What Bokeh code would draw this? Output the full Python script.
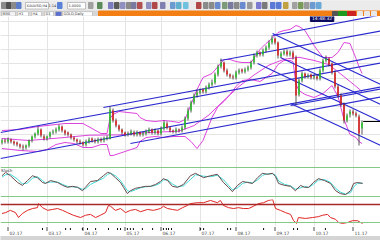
from bokeh.plotting import figure
from bokeh.layouts import column
from bokeh.models import Range1d, FixedTicker, ColumnDataSource, Span
from bokeh.embed import file_html
from bokeh.resources import INLINE
from bokeh.core.properties import value

# ---------------- data ----------------
opens = [1221, 1223, 1222, 1224, 1222, 1221, 1219, 1217, 1216, 1218,
         1223, 1227, 1230, 1234, 1227, 1225, 1227, 1231, 1232, 1234,
         1237, 1233, 1231, 1229, 1226, 1224, 1222, 1221, 1219, 1222,
         1225, 1223, 1222, 1224, 1223, 1225, 1225, 1253, 1243, 1238,
         1234, 1231, 1229, 1230, 1231, 1229, 1231, 1229, 1230, 1232,
         1234, 1231, 1233, 1230, 1235, 1240, 1236, 1233, 1232, 1234,
         1233, 1236, 1245, 1253, 1261, 1268, 1271, 1274, 1272, 1276,
         1279, 1281, 1289, 1297, 1301, 1293, 1289, 1287, 1286, 1291,
         1294, 1292, 1294, 1296, 1301, 1308, 1311, 1309, 1313, 1316,
         1321, 1325, 1321, 1307, 1310, 1312, 1309, 1311, 1306, 1269,
         1283, 1290, 1287, 1289, 1286, 1287, 1285, 1293, 1303, 1305,
         1300, 1291, 1277, 1268, 1259, 1243, 1249, 1252, 1250, 1247,
         1235]
highs = [1225, 1225, 1226, 1225, 1223, 1222, 1220, 1219, 1219, 1224,
         1228, 1231, 1237, 1235, 1229, 1228, 1232, 1234, 1236, 1239,
         1238, 1234, 1232, 1230, 1227, 1225, 1224, 1222, 1224, 1226,
         1226, 1225, 1226, 1226, 1227, 1228, 1257, 1255, 1245, 1239,
         1235, 1232, 1232, 1234, 1233, 1233, 1232, 1232, 1234, 1236,
         1235, 1235, 1234, 1237, 1243, 1242, 1237, 1234, 1236, 1235,
         1238, 1247, 1256, 1263, 1270, 1274, 1275, 1275, 1278, 1281,
         1284, 1291, 1299, 1305, 1302, 1295, 1290, 1289, 1293, 1295,
         1295, 1296, 1298, 1303, 1310, 1313, 1312, 1315, 1318, 1323,
         1328, 1326, 1322, 1312, 1314, 1314, 1313, 1313, 1308, 1285,
         1292, 1291, 1290, 1290, 1289, 1289, 1295, 1305, 1308, 1306,
         1301, 1293, 1279, 1270, 1261, 1250, 1254, 1254, 1252, 1249,
         1243]
lows = [1219, 1220, 1220, 1220, 1218, 1217, 1215, 1213, 1214, 1216,
        1221, 1225, 1228, 1226, 1223, 1223, 1225, 1229, 1230, 1232,
        1231, 1228, 1227, 1224, 1222, 1220, 1219, 1217, 1217, 1220,
        1221, 1220, 1220, 1221, 1221, 1223, 1224, 1241, 1236, 1232,
        1229, 1227, 1227, 1228, 1227, 1227, 1227, 1227, 1228, 1230,
        1229, 1229, 1228, 1228, 1233, 1234, 1231, 1230, 1230, 1231,
        1231, 1234, 1243, 1251, 1259, 1266, 1269, 1270, 1270, 1274,
        1277, 1279, 1287, 1295, 1291, 1287, 1285, 1284, 1284, 1289,
        1290, 1290, 1292, 1294, 1299, 1306, 1307, 1307, 1311, 1314,
        1319, 1319, 1305, 1306, 1308, 1307, 1307, 1304, 1259, 1267,
        1281, 1285, 1285, 1284, 1284, 1283, 1283, 1291, 1301, 1297,
        1289, 1275, 1266, 1257, 1240, 1241, 1246, 1248, 1246, 1218,
        1229]
closes = [1223, 1222, 1224, 1222, 1220, 1219, 1217, 1216, 1218, 1223,
          1227, 1230, 1234, 1228, 1225, 1227, 1231, 1232, 1234, 1237,
          1233, 1230, 1229, 1226, 1224, 1222, 1221, 1219, 1222, 1224,
          1223, 1222, 1224, 1223, 1225, 1226, 1254, 1243, 1238, 1234,
          1231, 1229, 1230, 1232, 1229, 1231, 1229, 1230, 1232, 1234,
          1231, 1233, 1230, 1235, 1241, 1236, 1233, 1232, 1234, 1233,
          1236, 1245, 1253, 1261, 1268, 1271, 1273, 1272, 1276, 1279,
          1281, 1289, 1297, 1301, 1293, 1289, 1287, 1286, 1291, 1293,
          1292, 1294, 1296, 1301, 1308, 1311, 1309, 1313, 1316, 1321,
          1325, 1321, 1308, 1310, 1312, 1309, 1311, 1306, 1268, 1283,
          1290, 1287, 1288, 1286, 1287, 1285, 1293, 1303, 1305, 1299,
          1291, 1277, 1268, 1259, 1243, 1248, 1252, 1250, 1248, 1230,
          1241]
bid = 1242

# Bollinger-style envelope
bb_bars = [0, 6, 12, 15, 18, 21, 24, 27, 30, 33, 35, 36, 37, 39, 42, 45, 46, 48,
           51, 54, 57, 59, 61, 63, 65, 67, 70, 72, 74, 76, 78, 80, 83, 86, 88,
           90, 92, 94, 96, 97, 98, 99, 101, 104, 107, 110, 112, 114, 116, 118,
           119, 120]
bb_upper = [1233, 1234, 1237, 1238, 1239, 1240, 1240, 1240, 1235, 1230, 1230,
            1245, 1249, 1252, 1251, 1250, 1246, 1243, 1242, 1243, 1242, 1241,
            1244, 1259, 1274, 1286, 1290, 1297, 1304, 1304, 1302, 1301, 1301,
            1314, 1320, 1325, 1331, 1333, 1334, 1336, 1338, 1337, 1333, 1318,
            1306, 1306, 1311, 1321, 1320, 1305, 1297, 1290]
bb_lower = [1215, 1213, 1212, 1214, 1219, 1221, 1220, 1216, 1216, 1219, 1219,
            1208, 1208, 1210, 1213, 1216, 1222, 1226, 1227, 1226, 1227, 1227,
            1227, 1222, 1215, 1223, 1246, 1257, 1262, 1269, 1277, 1283, 1284,
            1282, 1286, 1290, 1299, 1303, 1303, 1302, 1279, 1273, 1269, 1266,
            1270, 1278, 1267, 1244, 1229, 1226, 1222, 1220]
mid_bars = [0, 9, 19, 29, 39, 49, 59, 64, 69, 74, 79, 84, 89, 94, 99, 104, 109,
            114, 118, 120]
bb_middle = [1225, 1223, 1225.5, 1228.3, 1228.6, 1231, 1232.3, 1237.9, 1248.6,
             1263.2, 1277.1, 1288.5, 1298.4, 1304.2, 1306.2, 1303.1, 1298.8,
             1286.9, 1277.1, 1272]

# channel lines (start bar, start price) -> (end bar, end price)
ch_x0 = [-0.5, -0.5, 33.8, 42.8, 72.8, 90.2, 96.2, 90.2, 92.8, 85.2, 96.2]
ch_y0 = [1205, 1231, 1256, 1220, 1303, 1328, 1258, 1330, 1306, 1300, 1260]
ch_x1 = [127, 127, 127, 127, 127, 127, 127, 127, 127, 127, 127]
ch_y1 = [1277, 1301, 1308, 1267, 1333, 1349, 1275, 1278, 1258, 1241, 1217]

osc1_bars = [0, 1.2, 2.8, 5.2, 6.8, 8.5, 10.2, 11.8, 13.5, 14.5, 16.2, 18.5, 20.2,
             21.8, 23.5, 25.2, 26.8, 27.8, 29.5, 31.8, 33.8, 35.2, 36.2, 37.8,
             39.5, 40.5, 41.8, 42.8, 44.5, 46.2, 47.8, 49.5, 51.2, 52.8, 53.8,
             55.2, 56.8, 58.5, 60.5, 62.8, 64.5, 67.2, 69.5, 71.8, 73.8, 75.5,
             76.8, 78.5, 80.2, 81.8, 83.5, 85.2, 86.8, 88.5, 90.2, 91.2, 92.2,
             94.2, 96.2, 97.8, 99.5, 100.8, 102.2, 103.8, 105.5, 107.5, 109.5,
             111.2, 112.8, 114.5, 116.2, 117.2, 118.5, 120.2]
osc1_main = [63, 70, 63, 49, 43, 53, 63, 59, 49, 47, 53, 49, 43, 39, 41, 39, 32,
             39, 51, 53, 63, 70, 68, 59, 49, 39, 26, 32, 37, 39, 41, 41, 45, 51,
             57, 53, 41, 39, 45, 63, 68, 59, 63, 66, 49, 39, 30, 43, 51, 49, 47,
             59, 68, 66, 68, 61, 47, 43, 41, 32, 43, 39, 39, 49, 57, 53, 47, 32,
             26, 24, 32, 47, 49, 47]
osc1_signal = [60, 65, 66, 56, 46, 48, 58, 61, 53, 48, 50, 50, 45, 41, 40, 39,
               35, 36, 45, 52, 58, 66, 68, 63, 53, 44, 32, 30, 34, 38, 40, 41,
               43, 48, 54, 55, 46, 40, 42, 55, 65, 62, 61, 64, 55, 43, 34, 38,
               47, 50, 48, 54, 64, 67, 67, 64, 52, 45, 42, 35, 38, 41, 39, 45,
               54, 55, 49, 37, 29, 25, 28, 40, 47, 48]
osc1_levels = [80, 20]

osc2_bars = [0, 1.2, 2.8, 4.5, 5.5, 6.8, 8.5, 10.2, 11.8, 12.2, 13.5, 15.2, 16.8,
             18.5, 20.2, 21.8, 23.8, 26.2, 27.8, 29.5, 31.2, 32.8, 34.5, 35.5,
             36.2, 37.8, 39.5, 41.2, 42.8, 44.5, 46.2, 48.5, 50.5, 52.8, 53.8,
             55.2, 56.8, 58.5, 60.2, 61.8, 62.8, 65.2, 67.2, 69.5, 71.8, 72.8,
             73.8, 75.5, 77.2, 78.8, 80.5, 82.2, 83.8, 85.5, 87.2, 88.8, 90.2,
             91.2, 92.8, 94.5, 96.2, 97.2, 98.2, 98.8, 101.2, 103.5, 105.5,
             106.8, 108.5, 109.5, 111.2, 112.2, 113.5, 115.2, 116.8, 118.5,
             119.5, 120.2]
osc2_vals = [50, 52, 57, 52, 41, 50, 57, 61, 63, 72, 63, 57, 59, 61, 57, 52, 46,
             41, 46, 48, 41, 46, 52, 68, 66, 57, 61, 52, 57, 59, 54, 59, 57, 61,
             66, 61, 59, 57, 63, 68, 72, 74, 74, 79, 74, 79, 68, 63, 61, 63, 61,
             61, 66, 72, 74, 79, 81, 61, 57, 52, 48, 34, 28, 41, 39, 41, 43, 46,
             48, 41, 37, 30, 28, 30, 34, 34, 30, 28]
osc2_levels = [70, 30]

tick_bars = [2, 15, 27, 41, 53, 66, 78, 91, 104, 117]
tick_labels = ["02.17", "03.17", "04.17", "05.17", "06.17", "07.17", "08.17",
               "09.17", "10.17", "11.17"]
marker_bars = [13.5, 21.2, 22.8, 26.8, 28.5, 31.2, 35.5, 38.5, 39.5, 41.8, 42.8,
               43.8, 46.8, 50.2, 53.8, 54.8, 55.5, 56.5, 66.2, 67.2, 75.2, 76.2,
               87.2, 97.2, 98.5, 107.8]
price_grid = [1200.2, 1214.4, 1228.6, 1242.8, 1257.0, 1271.2, 1285.4, 1299.6,
              1313.8, 1328.0, 1342.2]
clock_text = "14:48:32"

# ---------------- styling ----------------
GREEN = "#22c422"
RED = "#e01818"
BLUE = "#2b2bd0"
MAG = "#dd44dd"
GRID = "#e4e4e4"
FONT = value("DejaVu Sans")

xr = Range1d(-0.5, -0.5 + 380 / 3)


def panel(h, yr, xrange=xr):
    p = figure(width=380, height=h, x_range=xrange, y_range=yr,
               toolbar_location=None, output_backend="svg", min_border=0,
               x_axis_location=None, y_axis_location=None)
    p.outline_line_color = None
    p.background_fill_color = "white"
    p.border_fill_color = "white"
    p.xgrid.ticker = FixedTicker(ticks=tick_bars)
    p.xgrid.grid_line_color = GRID
    p.ygrid.grid_line_color = None
    return p


# ---------------- header (toolbar + tabs) ----------------
hdr = figure(width=380, height=16, x_range=Range1d(0, 380), y_range=Range1d(16, 0),
             toolbar_location=None, output_backend="svg", min_border=0,
             x_axis_location=None, y_axis_location=None)
hdr.outline_line_color = None
hdr.xgrid.grid_line_color = None
hdr.ygrid.grid_line_color = None
hdr.border_fill_color = "#ececec"
hdr.background_fill_color = "#ececec"
hdr.quad(left=[0], right=[380], top=[0], bottom=[10.5], color="#ebebeb")
hdr.quad(left=[0], right=[98], top=[10.5], bottom=[16], color="#d6d6d6")
hdr.quad(left=[98], right=[380], top=[10.5], bottom=[16], color="#f27e14")
icon_x = [1, 6, 11, 16, 57, 88, 97, 108, 114, 120, 126, 131, 137, 146, 152, 160,
          170, 176, 183, 196, 203, 209, 215, 222, 228, 234, 240, 247, 256, 262,
          270, 276, 283, 292, 298, 304, 310, 316]
icon_c = ["#8a8a8a", "#505050", "#8a8a8a", "#5b7cc8", "#5a80d8", "#a0a0a0",
          "#5a8a5a", "#7b7bc0", "#5a5a5a", "#9090c0", "#8a8a8a", "#7a7aa0",
          "#b05050", "#9090c0", "#b04848", "#8080b0", "#6a9ad0", "#60b0d0",
          "#70c0e0", "#b04848", "#8a8a8a", "#8a8a8a", "#6a8ad0", "#7a9a7a",
          "#7a7aa0", "#8a8a8a", "#6a8ad0", "#9a9a9a", "#7a7ad0", "#7a7a7a",
          "#5a7ad8", "#5a7ad8", "#c0a040", "#a0a0a0", "#7a9a5a", "#9a9a9a",
          "#6a9ad0", "#6aa8d8"]
hdr.quad(left=icon_x, right=[v + 4.5 for v in icon_x], top=[2] * len(icon_x),
         bottom=[8] * len(icon_x), color=icon_c)
hdr.quad(left=[25, 67], right=[48, 85], top=[2, 2], bottom=[8.5, 8.5],
         fill_color="white", line_color="#9a9a9a", line_width=0.6)
hdr.text(x=[26, 68], y=[5.4, 5.4], text=["XAUUSD,H4 1.14", "1.0000"],
         text_font=FONT, text_font_size="3.5px", text_color="#333333",
         text_baseline="middle")
tab_l = [1, 17, 31, 44, 55, 62]
tab_r = [15, 28, 41, 53, 61, 92]
tab_c = ["#f4f4f4", "white", "white", "white", "#5a6fd0", "white"]
hdr.quad(left=tab_l, right=tab_r, top=[11.2] * 6, bottom=[15.6] * 6,
         fill_color=tab_c, line_color="#aaaaaa", line_width=0.5)
hdr.text(x=[2, 18, 32, 45, 63], y=[13.5] * 5, text=["M30", "H1", "H4", "D1", "GOLD,Daily"],
         text_font=FONT, text_font_size="3.5px", text_color="#333333",
         text_baseline="middle")
hdr.quad(left=[332, 338, 347, 357, 364, 371], right=[337, 346, 355, 362, 369, 376],
         top=[11] * 6, bottom=[15.5] * 6,
         color=["#555555", "#1f9a1f", "#cc2222", "#e8e8e8", "#e8e8e8", "#e8e8e8"])

# ---------------- main price chart ----------------
main = panel(147, Range1d(1200, 1347))
main.ygrid.ticker = FixedTicker(ticks=price_grid)
main.ygrid.grid_line_color = GRID

bars = list(range(len(closes)))
cols = [GREEN if c >= o else RED for o, c in zip(opens, closes)]
src = ColumnDataSource(dict(x=bars, o=opens, h=highs, l=lows, c=closes,
                            top=[max(o, c) for o, c in zip(opens, closes)],
                            bot=[min(o, c) for o, c in zip(opens, closes)],
                            col=cols))
main.line(bb_bars, bb_upper, line_color=MAG, line_width=1)
main.line(bb_bars, bb_lower, line_color=MAG, line_width=1)
main.line(mid_bars, bb_middle, line_color=MAG, line_width=1)
main.segment(x0=ch_x0, y0=ch_y0, x1=ch_x1, y1=ch_y1, line_color=BLUE, line_width=1.2)
main.segment(x0="x", y0="l", x1="x", y1="h", source=src, line_color="#2a2a2a", line_width=0.8)
main.vbar(x="x", width=0.5, top="top", bottom="bot", source=src,
          fill_color="col", line_color=None)
main.segment(x0=[bars[-1] + 0.4], y0=[bid], x1=[127], y1=[bid], line_color="black", line_width=1)
main.quad(left=[102.8], right=[110.6], top=[1348], bottom=[1342], color="#0b0b5e")
main.text(x=[103.3], y=[1345], text=[clock_text], text_font=FONT, text_font_size="4.5px",
          text_color="white", text_baseline="middle")

# ---------------- oscillator 1 ----------------
o1 = panel(36, Range1d(13.8, 88.3))
for lv in osc1_levels:
    o1.add_layout(Span(location=lv, dimension="width", line_color="#86c886", line_width=1))
o1.line(osc1_bars, osc1_signal, line_color="#3fd8d8", line_width=1)
o1.line(osc1_bars, osc1_main, line_color="#6a4a4a", line_width=1)
o1.text(x=[-0.3], y=[74], text=["Stoch"], text_font=FONT, text_font_size="4px",
        text_color="#333333", text_baseline="middle")

# ---------------- oscillator 2 ----------------
o2 = panel(27, Range1d(21.1, 81.1))
o2.add_layout(Span(location=osc2_levels[0], dimension="width", line_color="#a82828", line_width=1.4))
o2.add_layout(Span(location=osc2_levels[1], dimension="width", line_color="#86c886", line_width=1.2))
o2.line(osc2_bars, osc2_vals, line_color="#e02424", line_width=1)

# ---------------- time axis + status strip ----------------
ax = panel(14, Range1d(14, 0))
ax.xgrid.grid_line_color = None
ax.segment(x0=tick_bars, y0=[0.5] * len(tick_bars), x1=tick_bars, y1=[4.5] * len(tick_bars),
           line_color="#222222", line_width=0.8)
ax.segment(x0=marker_bars, y0=[1.5] * len(marker_bars), x1=marker_bars,
           y1=[3.5] * len(marker_bars), line_color="#111111", line_width=1)
ax.text(x=tick_bars, y=[6] * len(tick_bars), text=tick_labels, text_font=FONT,
        text_font_size="4.5px", text_color="#444444", text_baseline="middle", x_offset=1.5)
ax.quad(left=[-1], right=[128], top=[10], bottom=[14], color="#d4d4d4")

layout = column(hdr, main, o1, o2, ax, spacing=0)
open("out.html", "w").write(file_html(layout, INLINE))
